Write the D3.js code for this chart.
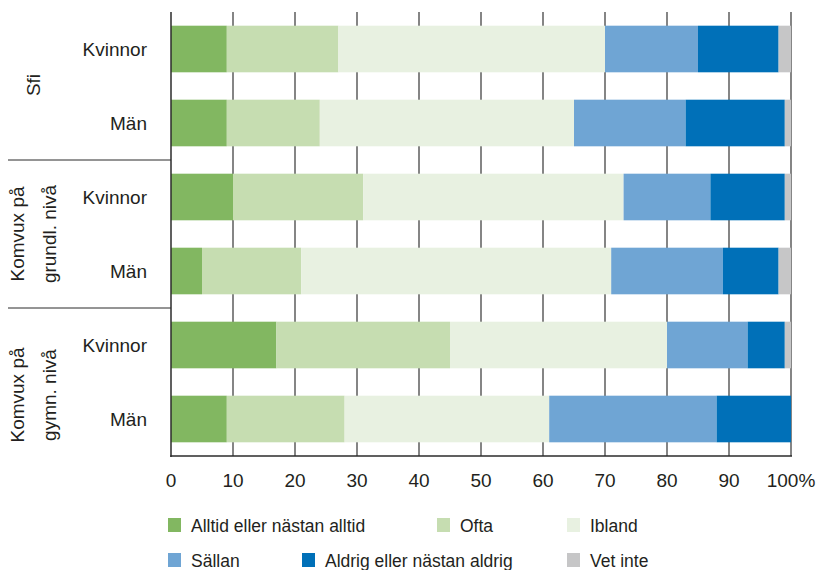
<!DOCTYPE html>
<html>
<head>
<meta charset="utf-8">
<script src="https://cdn.jsdelivr.net/npm/d3@7"></script>
<style>
  html, body { margin: 0; padding: 0; background: #fff; }
  svg { display: block; }
  text { font-family: "Liberation Sans", Arial, sans-serif; fill: #231f20; }
</style>
</head>
<body>
<svg id="chart" width="819" height="570"></svg>
<script>
// ---- Data ----
const categories = ["Alltid eller nästan alltid", "Ofta", "Ibland", "Sällan", "Aldrig eller nästan aldrig", "Vet inte"];
const groups = [["Sfi"], ["Komvux på", "grundl. nivå"], ["Komvux på", "gymn. nivå"]];
const rowLabels = ["Kvinnor", "Män", "Kvinnor", "Män", "Kvinnor", "Män"];
const alltid  = [9, 9, 10, 5, 17, 9];
const ofta    = [18, 15, 21, 16, 28, 19];
const ibland  = [43, 41, 42, 50, 35, 33];
const sallan  = [15, 18, 14, 18, 13, 27];
const aldrig  = [13, 16, 12, 9, 6, 12];
const vetInte = [2, 1, 1, 2, 1, 0];
const tickValues = [0, 10, 20, 30, 40, 50, 60, 70, 80, 90, 100];
const tickLabels = ["0", "10", "20", "30", "40", "50", "60", "70", "80", "90", "100%"];
const colors = ["#82b761", "#c6ddb1", "#e8f1e1", "#6fa5d4", "#0070b8", "#c6c6c7"];

(function () {
const series = [alltid, ofta, ibland, sallan, aldrig, vetInte];
const table = rowLabels.map((r, i) => {
  const o = { idx: i };
  categories.forEach((c, j) => { o[c] = series[j][i]; });
  return o;
});

// ---- Layout ----
const svg = d3.select("#chart");
const mLeft = 171, mRight = 791, mTop = 12, mBottom = 456;

const x = d3.scaleLinear().domain([0, 100]).range([mLeft, mRight]);
const y = d3.scaleBand().domain(d3.range(rowLabels.length)).range([mTop, mBottom])
  .paddingInner(0.37).paddingOuter(0.185);
const color = d3.scaleOrdinal().domain(categories).range(colors);

// gridlines
svg.append("g").selectAll("line").data(tickValues.slice(1)).join("line")
  .attr("x1", d => x(d)).attr("x2", d => x(d))
  .attr("y1", mTop).attr("y2", mBottom)
  .attr("stroke", "#858585").attr("stroke-width", 2);

// bars
const stacked = d3.stack().keys(categories)(table);
svg.append("g").selectAll("g").data(stacked).join("g")
  .attr("fill", d => color(d.key))
  .selectAll("rect").data(d => d).join("rect")
  .attr("x", d => x(d[0]))
  .attr("width", d => x(d[1]) - x(d[0]))
  .attr("y", d => y(d.data.idx))
  .attr("height", y.bandwidth());

// axes lines
svg.append("line").attr("x1", mLeft).attr("x2", mLeft).attr("y1", mTop).attr("y2", mBottom + 1)
  .attr("stroke", "#2b2b2b").attr("stroke-width", 1.5);
svg.append("line").attr("x1", mLeft - 0.75).attr("x2", mRight + 1).attr("y1", mBottom).attr("y2", mBottom)
  .attr("stroke", "#2b2b2b").attr("stroke-width", 1.5);

// x tick labels
svg.append("g").selectAll("text").data(tickValues).join("text")
  .attr("x", d => x(d)).attr("y", 487)
  .attr("text-anchor", "middle").attr("font-size", 19)
  .text((d, i) => tickLabels[i]);

// row labels
svg.append("g").selectAll("text").data(rowLabels).join("text")
  .attr("x", 147).attr("y", (d, i) => y(i) + y.bandwidth() / 2 + 7)
  .attr("text-anchor", "end").attr("font-size", 19)
  .text(d => d);

// group separators
const step = y.step();
[2, 4].forEach(k => {
  svg.append("line").attr("x1", 8).attr("x2", mLeft)
    .attr("y1", mTop + k * step).attr("y2", mTop + k * step)
    .attr("stroke", "#2b2b2b").attr("stroke-width", 1);
});

// group labels (rotated)
const groupCenters = [mTop + step - 1, mTop + 3 * step, mTop + 5 * step + 13];
groups.forEach((lines, g) => {
  const cy = groupCenters[g];
  const baselines = lines.length === 1 ? [40] : [24, 56];
  lines.forEach((t, k) => {
    svg.append("text")
      .attr("transform", `translate(${baselines[k]},${cy}) rotate(-90)`)
      .attr("text-anchor", "middle").attr("font-size", 19)
      .text(t);
  });
});

// legend
const legendPos = [[168, 518], [437, 518], [567, 518], [168, 553], [302, 553], [567, 553]];
const lg = svg.append("g").selectAll("g").data(categories).join("g")
  .attr("transform", (d, i) => `translate(${legendPos[i][0]},${legendPos[i][1]})`);
lg.append("rect").attr("width", 13).attr("height", 14).attr("fill", d => color(d));
lg.append("text").attr("x", 23).attr("y", 14).attr("font-size", 17.5).text(d => d);
})();
</script>
</body>
</html>
